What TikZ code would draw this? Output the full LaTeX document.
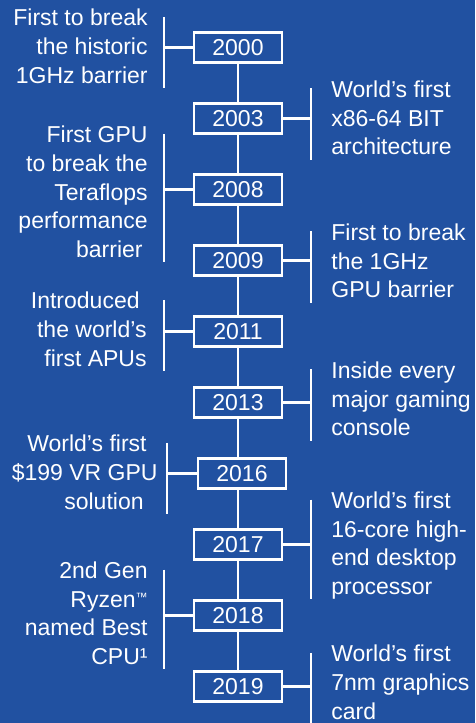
\documentclass[tikz,border=0pt]{standalone}
\usepackage{fontspec}
\setmainfont{Liberation Sans}
\usetikzlibrary{positioning}
\definecolor{timeline}{RGB}{33,81,161}
\newcommand\tmark{\raisebox{6pt}{\fontsize{12}{12}\selectfont ™}}

\begin{document}
\begin{tikzpicture}[x=1pt, y=1pt, node distance=71pt, on grid,
    year/.style    = {draw=white, line width=2.4pt, fill=timeline, text=white,
                      minimum width=88pt, minimum height=30pt, inner sep=0pt,
                      font=\fontsize{23}{28.7}\selectfont},
    note/.style    = {text=white, inner sep=0pt, yshift=-2pt,
                      font=\fontsize{23}{28.7}\selectfont,
                      execute at begin node=\strut, execute at end node=\strut},
    lnote/.style   = {note, align=right, anchor=east},
    rnote/.style   = {note, align=left, anchor=west},
    link/.style    = {white, line width=2.4pt},
    bracket/.style = {link, shorten <=8pt, shorten >=4pt}]

    \useasboundingbox[fill=timeline] (0,0) rectangle (475,-723);

    % Years
    \node [year] (y2000) at (238,-47.5) {2000};
    \node [year] (y2003) [below=of y2000] {2003};
    \node [year] (y2008) [below=of y2003] {2008};
    \node [year] (y2009) [below=of y2008] {2009};
    \node [year] (y2011) [below=of y2009] {2011};
    \node [year] (y2013) [below=of y2011] {2013};
    \node [year] (y2016) [below=of y2013, xshift=4pt] {2016};
    \node [year] (y2017) [below=of y2016, xshift=-4pt] {2017};
    \node [year] (y2018) [below=of y2017] {2018};
    \node [year] (y2019) [below=of y2018] {2019};

    % Spine
    \foreach \a/\b in {2000/2003, 2003/2008, 2008/2009, 2009/2011, 2011/2013,
                       2013/2016, 2016/2017, 2017/2018, 2018/2019}
        \draw [link] (y2000 |- y\a.south) -- (y2000 |- y\b.north);

    % Left notes
    \draw [link] (y2000.west) -- ++(-29,0) coordinate (b2000);
    \node [lnote] (n2000) at ([xshift=-16pt, yshift=-1pt]b2000)
        {First to break\\the historic\hspace*{5pt}\\1GHz barrier};
    \draw [bracket] (b2000 |- n2000.north) -- (b2000 |- n2000.south);

    \draw [link] (y2008.west) -- ++(-29,0) coordinate (b2008);
    \node [lnote] (n2008) at ([xshift=-16pt, yshift=-4.5pt]b2008)
        {First GPU\\to break the\\Teraflops\hspace*{5pt}\\performance\hspace*{5pt}\\barrier\hspace*{5pt}};
    \draw [bracket] (b2008 |- n2008.north) -- (b2008 |- n2008.south);

    \draw [link] (y2011.west) -- ++(-29,0) coordinate (b2011);
    \node [lnote] (n2011) at ([xshift=-17pt]b2011)
        {Introduced\hspace*{7pt}\\the world’s\hspace*{3pt}\\first APUs};
    \draw [bracket] (b2011 |- n2011.north) -- (b2011 |- n2011.south);

    \draw [link] (y2016.west) -- ++(-30,0) coordinate (b2016);
    \node [lnote] (n2016) at ([xshift=-9pt, yshift=-1pt]b2016)
        {World’s first\hspace*{11pt}\\\$199 VR GPU\\solution\hspace*{14pt}};
    \draw [bracket] (b2016 |- n2016.north) -- (b2016 |- n2016.south);

    \draw [link] (y2018.west) -- ++(-29,0) coordinate (b2018);
    \node [lnote] (n2018) at ([xshift=-16pt]b2018)
        {2nd Gen\\Ryzen\tmark\\named Best\\CPU¹};
    \draw [bracket] (b2018 |- n2018.north) -- (b2018 |- n2018.south);

    % Right notes
    \draw [link] (y2003.east) -- ++(28,0) coordinate (b2003);
    \node [rnote] (n2003) at ([xshift=20pt, yshift=-1.5pt]b2003)
        {World’s first\\x86-64 BIT\\architecture};
    \draw [bracket] (b2003 |- n2003.north) -- (b2003 |- n2003.south);

    \draw [link] (y2009.east) -- ++(28,0) coordinate (b2009);
    \node [rnote] (n2009) at ([xshift=20pt, yshift=-2.5pt]b2009)
        {First to break\\the 1GHz\\GPU barrier};
    \draw [bracket] (b2009 |- n2009.north) -- (b2009 |- n2009.south);

    \draw [link] (y2013.east) -- ++(28,0) coordinate (b2013);
    \node [rnote] (n2013) at ([xshift=20pt, yshift=1.5pt]b2013)
        {Inside every\\major gaming\\console};
    \draw [bracket] (b2013 |- n2013.north) -- (b2013 |- n2013.south);

    \draw [link] (y2017.east) -- ++(28,0) coordinate (b2017);
    \node [rnote] (n2017) at ([xshift=20pt, yshift=-1pt]b2017)
        {World’s first\\16-core high-\\end desktop\\processor};
    \draw [bracket] (b2017 |- n2017.north) -- (b2017 |- n2017.south);

    \draw [link] (y2019.east) -- ++(28,0) coordinate (b2019);
    \node [rnote] (n2019) at ([xshift=20pt, yshift=2pt]b2019)
        {World’s first\\7nm graphics\\card};
    \draw [bracket] (b2019 |- n2019.north) -- (b2019 |- n2019.south);
\end{tikzpicture}
\end{document}
